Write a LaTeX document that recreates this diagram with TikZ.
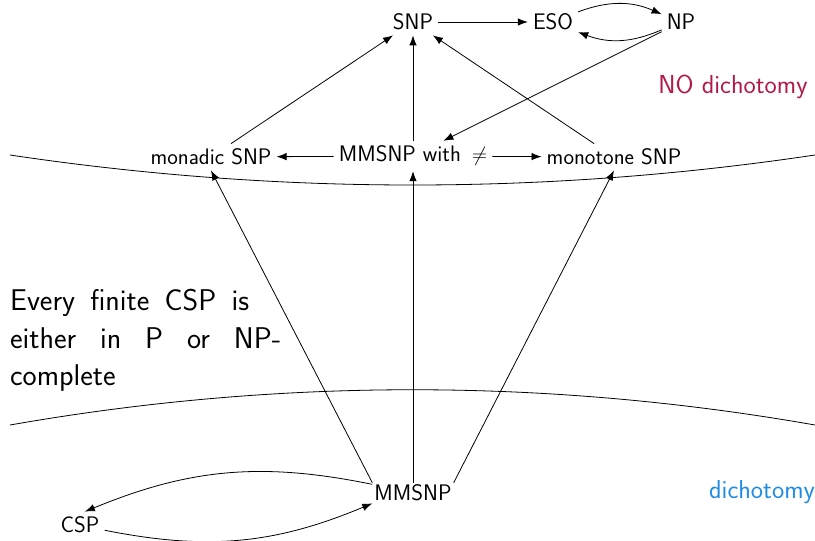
\documentclass[tikz,border=0pt]{standalone}
\usepackage{fontspec}
\usetikzlibrary{arrows.meta}
\definecolor{nored}{RGB}{178,24,72}
\definecolor{diblue}{RGB}{30,140,228}
\begin{document}
\begin{tikzpicture}[x=1pt,y=-1pt,
  lbl/.style={font=\sffamily\fontsize{22.5}{26}\selectfont, inner sep=5pt},
  big/.style={font=\sffamily\fontsize{26}{30}\selectfont, inner sep=3pt},
  arr/.style={-{Latex[length=10pt,width=7.5pt]}, line width=0.8pt},
  bnd/.style={line width=0.8pt}]
\useasboundingbox (0,0) rectangle (815,541);
% nodes
\node[lbl] (snp) at (413,22) {SNP};
\node[lbl] (eso) at (553,22) {ESO};
\node[lbl] (np) at (681,22) {NP};
\node[lbl] (mon) at (211,157) {monadic SNP};
\node[lbl] (mmw) at (413,156) {MMSNP with\hspace{0.5em}$\neq$};
\node[lbl] (mto) at (614,157) {monotone SNP};
\node[lbl, inner sep=2pt] (mm) at (413,493) {MMSNP};
\node[lbl] (csp) at (80,525) {CSP};
\node[big, text=nored] (nod) at (733,87) {NO dichotomy};
\node[big, text=diblue] (dic) at (762,492) {dichotomy};
\node[font=\sffamily\fontsize{30}{37.5}\selectfont, anchor=north west, inner sep=0pt, align=left] (txt) at (10,289)
  {\makebox[239pt][s]{Every finite CSP is}\\ \makebox[271pt][s]{either in P or NP-}\\ complete};
% boundaries
\coordinate (ul) at (10,155); \coordinate (ur) at (815,155);
\coordinate (ll) at (10,425); \coordinate (lr) at (815,425);
\draw[bnd] (ul) .. controls (278,195) and (547,195) .. (ur);
\draw[bnd] (ll) .. controls (278,378) and (547,378) .. (lr);
% arrows
\draw[arr] (snp) -- (eso);
\draw[arr] (eso) to[bend left=22] (np);
\draw[arr] (np) to[bend left=22] (eso);
\draw[arr] (np) -- (mmw);
\draw[arr] (mon) -- (snp);
\draw[arr] (mmw) -- (snp);
\draw[arr] (mto) -- (snp);
\draw[arr] (mmw) -- (mon);
\draw[arr] (mmw) -- (mto);
\draw[arr] (mm.north west) -- (mon.south);
\draw[arr] (mm.north) -- (mmw.south);
\draw[arr] (mm.north east) -- (mto.south);
\draw[arr] (mm.168) to[bend right=17] (csp.70);
\draw[arr] (csp.-12) to[bend right=17] (mm.south west);
\end{tikzpicture}
\end{document}
